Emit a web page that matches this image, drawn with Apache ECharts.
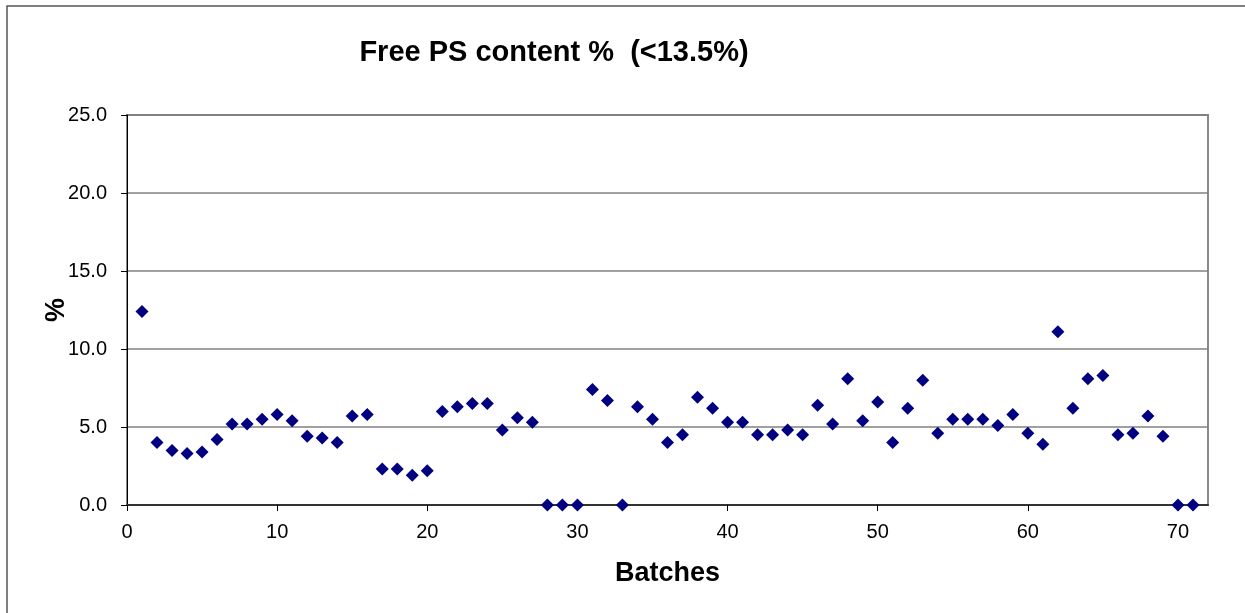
<!DOCTYPE html>
<html>
<head>
<meta charset="utf-8">
<script src="https://cdn.jsdelivr.net/npm/echarts@6/dist/echarts.min.js"></script>
<style>
html,body{margin:0;padding:0;background:#fff;}
#chart{width:1245px;height:613px;}
</style>
</head>
<body>
<div id="chart"></div>
<script>
const titleText = 'Free PS content %  (<13.5%)';
const xAxisName = 'Batches';
const yAxisName = '%';
const xTicks = [0, 10, 20, 30, 40, 50, 60, 70];
const batches = [];
for (let i = 1; i <= 71; i++) batches.push(i);
const freePS = [
  12.4, 4.0, 3.5, 3.3, 3.4, 4.2, 5.2, 5.2, 5.5, 5.8,
  5.4, 4.4, 4.3, 4.0, 5.7, 5.8, 2.3, 2.3, 1.9, 2.2,
  6.0, 6.3, 6.5, 6.5, 4.8, 5.6, 5.3, 0.0, 0.0, 0.0,
  7.4, 6.7, 0.0, 6.3, 5.5, 4.0, 4.5, 6.9, 6.2, 5.3,
  5.3, 4.5, 4.5, 4.8, 4.5, 6.4, 5.2, 8.1, 5.4, 6.6,
  4.0, 6.2, 8.0, 4.6, 5.5, 5.5, 5.5, 5.1, 5.8, 4.6,
  3.9, 11.1, 6.2, 8.1, 8.3, 4.5, 4.6, 5.7, 4.4, 0.0,
  0.0
];
const chart = echarts.init(document.getElementById('chart'));
const font = 'Liberation Sans, Arial, sans-serif';
chart.setOption({
  animation: false,
  backgroundColor: '#ffffff',
  title: {
    text: titleText,
    left: 549, top: 33, textAlign: 'center',
    textStyle: {fontFamily: font, fontSize: 29, fontWeight: 'bold', color: '#000'}
  },
  graphic: [{
    type: 'rect', shape: {x: 7, y: 6, width: 1300, height: 700},
    style: {fill: 'none', stroke: '#555', lineWidth: 1.5}, silent: true, z: -1
  }],
  grid: {left: 127, right: 37, top: 115, bottom: 108, show: true, borderColor: '#888', borderWidth: 2, backgroundColor: 'transparent'},
  xAxis: {
    type: 'value', min: 0, max: 72, interval: 10,
    name: xAxisName, nameLocation: 'middle', nameGap: 55, nameMoveOverlap: false,
    nameTextStyle: {fontFamily: font, fontSize: 27, fontWeight: 'bold', color: '#000'},
    axisLine: {show: true, onZero: false, lineStyle: {color: '#333', width: 2}},
    axisTick: {show: true, length: 6, lineStyle: {color: '#000'}, customValues: xTicks},
    axisLabel: {fontFamily: font, fontSize: 20, color: '#000', margin: 17, customValues: xTicks,
      formatter: v => String(v)},
    splitLine: {show: false}
  },
  yAxis: {
    type: 'value', min: 0, max: 25, interval: 5,
    name: yAxisName, nameLocation: 'middle', nameGap: 57, nameRotate: 90, nameMoveOverlap: false,
    nameTextStyle: {fontFamily: font, fontSize: 27, fontWeight: 'bold', color: '#000'},
    axisLine: {show: true, lineStyle: {color: '#000', width: 1}},
    axisTick: {show: true, length: 6, lineStyle: {color: '#000'}},
    axisLabel: {fontFamily: font, fontSize: 20, color: '#000', margin: 20,
      formatter: v => v.toFixed(1)},
    splitLine: {show: true, lineStyle: {color: '#808080', width: 1.5}}
  },
  series: [{
    type: 'scatter',
    data: batches.map((b, i) => [b, freePS[i]]),
    symbol: 'diamond', symbolSize: 13,
    itemStyle: {color: '#000080', opacity: 1},
    clip: false
  }]
});
</script>
</body>
</html>
